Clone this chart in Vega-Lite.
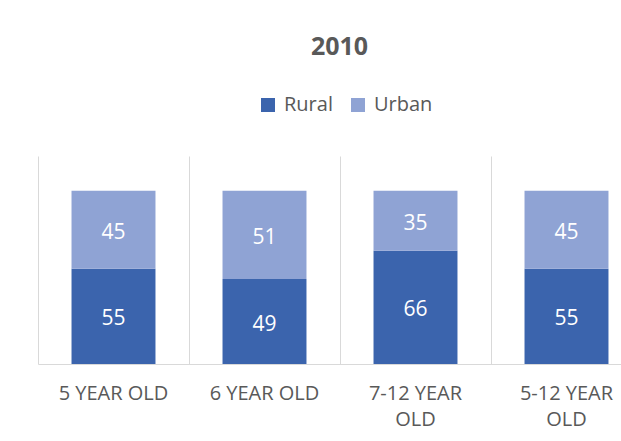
{
  "$schema": "https://vega.github.io/schema/vega-lite/v6.json",
  "width": 583,
  "height": 208,
  "autosize": {"type": "none"},
  "padding": {"left": 38, "top": 156, "right": 0, "bottom": 77},
  "background": "white",
  "config": {"view": {"stroke": null}, "font": "Open Sans"},
  "title": {
    "text": "2010",
    "font": "Open Sans",
    "fontSize": 25,
    "fontWeight": "bold",
    "color": "#595959",
    "anchor": "middle",
    "baseline": "alphabetic",
    "offset": 15,
    "dx": 10
  },
  "data": {
    "values": [
      {"cat": "5 YEAR OLD", "series": "Rural", "value": 55},
      {"cat": "5 YEAR OLD", "series": "Urban", "value": 45},
      {"cat": "6 YEAR OLD", "series": "Rural", "value": 49},
      {"cat": "6 YEAR OLD", "series": "Urban", "value": 51},
      {"cat": "7-12 YEAR OLD", "series": "Rural", "value": 66},
      {"cat": "7-12 YEAR OLD", "series": "Urban", "value": 35},
      {"cat": "5-12 YEAR OLD", "series": "Rural", "value": 55},
      {"cat": "5-12 YEAR OLD", "series": "Urban", "value": 45}
    ]
  },
  "transform": [
    {"stack": "value", "groupby": ["cat"], "sort": [{"field": "series", "order": "ascending"}], "offset": "normalize", "as": ["v0", "v1"]},
    {"calculate": "(datum.v0 + datum.v1) / 2", "as": "mid"}
  ],
  "encoding": {
    "x": {
      "field": "cat",
      "type": "nominal",
      "sort": ["5 YEAR OLD", "6 YEAR OLD", "7-12 YEAR OLD", "5-12 YEAR OLD"],
      "scale": {"range": [0, 604], "paddingInner": 0, "paddingOuter": 0},
      "axis": {
        "title": null,
        "labelAngle": 0,
        "bandPosition": 0,
        "grid": true,
        "gridColor": "#D9D9D9",
        "gridWidth": 1,
        "ticks": false,
        "domain": true,
        "domainColor": "#D9D9D9",
        "domainWidth": 1,
        "labelFont": "Open Sans",
        "labelFontSize": 20,
        "labelColor": "#595959",
        "labelBaseline": "top",
        "labelPadding": 19,
        "labelLineHeight": 26,
        "labelOverlap": false,
        "labelLimit": 0,
        "labelExpr": "datum.value == '7-12 YEAR OLD' ? ['7-12 YEAR', 'OLD'] : datum.value == '5-12 YEAR OLD' ? ['5-12 YEAR', 'OLD'] : datum.label"
      }
    }
  },
  "layer": [
    {
      "mark": {"type": "bar", "width": {"band": 0.556}},
      "encoding": {
        "y": {"field": "v0", "type": "quantitative", "scale": {"domain": [0, 1.2], "nice": false, "zero": true}, "axis": null},
        "y2": {"field": "v1"},
        "color": {
          "field": "series",
          "type": "nominal",
          "scale": {"domain": ["Rural", "Urban"], "range": ["#3B64AD", "#8FA3D4"]},
          "legend": {
            "title": null,
            "orient": "none",
            "direction": "horizontal",
            "legendX": 220,
            "legendY": -61,
            "symbolType": "square",
            "symbolSize": 196,
            "symbolStrokeWidth": 0,
            "labelFont": "Open Sans",
            "labelFontSize": 20,
            "labelColor": "#595959",
            "labelOffset": 6,
            "columnPadding": 15
          }
        }
      }
    },
    {
      "mark": {"type": "text", "color": "white", "font": "Open Sans", "fontSize": 21, "baseline": "middle", "align": "center", "dy": 3},
      "encoding": {
        "y": {"field": "mid", "type": "quantitative", "scale": {"domain": [0, 1.2], "nice": false}},
        "text": {"field": "value", "type": "quantitative"}
      }
    }
  ]
}
